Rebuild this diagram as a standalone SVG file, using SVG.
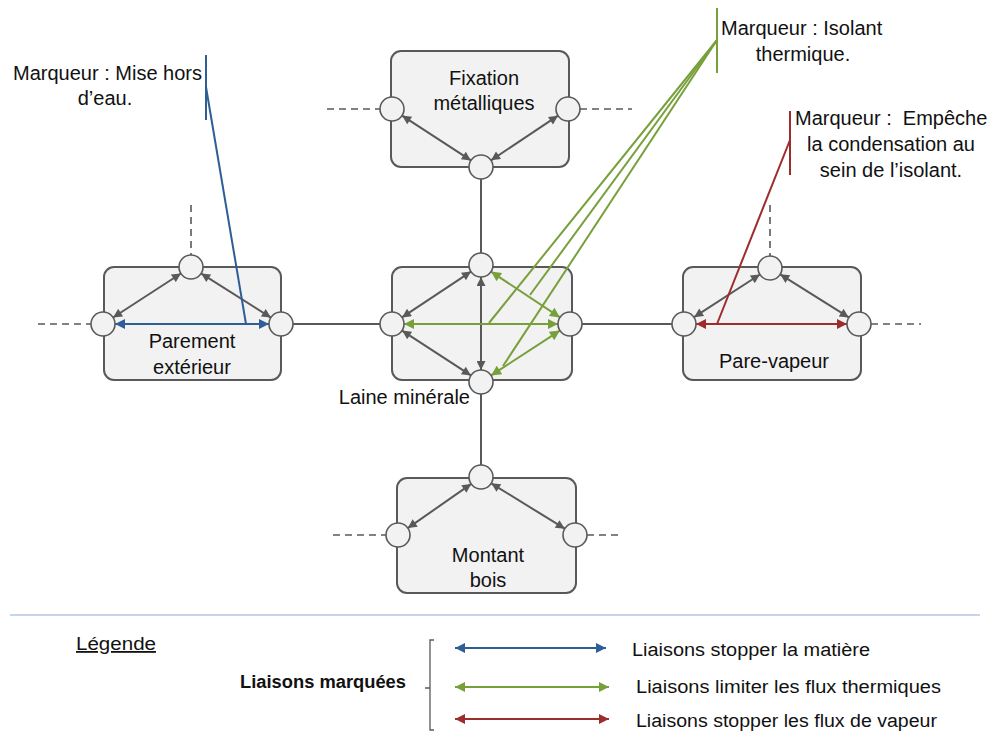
<svg xmlns="http://www.w3.org/2000/svg" width="993" height="733" viewBox="0 0 993 733">
<defs>
<marker id="ag" viewBox="0 0 10 10" refX="10" refY="5" markerWidth="11" markerHeight="9" markerUnits="userSpaceOnUse" orient="auto-start-reverse"><path d="M0,0 L10,5 L0,10 z" fill="#595959"/></marker>
<marker id="ab" viewBox="0 0 10 10" refX="10" refY="5" markerWidth="13" markerHeight="10" markerUnits="userSpaceOnUse" orient="auto-start-reverse"><path d="M0,0 L10,5 L0,10 z" fill="#2E5E96"/></marker>
<marker id="agr" viewBox="0 0 10 10" refX="10" refY="5" markerWidth="13" markerHeight="10" markerUnits="userSpaceOnUse" orient="auto-start-reverse"><path d="M0,0 L10,5 L0,10 z" fill="#77A03B"/></marker>
<marker id="ar" viewBox="0 0 10 10" refX="10" refY="5" markerWidth="13" markerHeight="10" markerUnits="userSpaceOnUse" orient="auto-start-reverse"><path d="M0,0 L10,5 L0,10 z" fill="#9B2D2D"/></marker>
</defs>
<style>
.box{fill:#f2f2f2;stroke:#595959;stroke-width:2}
.c{fill:#f2f2f2;stroke:#595959;stroke-width:1.6}
.ln{stroke:#595959;stroke-width:2;fill:none}
.dash{stroke:#595959;stroke-width:1.6;stroke-dasharray:7,5;fill:none}
.ga{stroke:#595959;stroke-width:2;marker-start:url(#ag);marker-end:url(#ag)}
.bl{stroke:#2E5E96;stroke-width:2;fill:none}
.gr{stroke:#77A03B;stroke-width:2;fill:none}
.rd{stroke:#9B2D2D;stroke-width:2;fill:none}
text{font-family:"Liberation Sans",Arial,sans-serif;font-size:20px;fill:#111111;white-space:pre}
.m{text-anchor:middle}
.lg{font-size:18px}
</style>
<rect width="993" height="733" fill="#ffffff"/>

<g id="connectors">
<line class="ln" x1="481" y1="179" x2="481" y2="253"/>
<line class="ln" x1="481" y1="394" x2="481" y2="465"/>
<line class="ln" x1="293" y1="324" x2="380" y2="324"/>
<line class="ln" x1="582" y1="324" x2="672" y2="324"/>
<line class="dash" x1="38" y1="324" x2="91" y2="324"/>
<line class="dash" x1="191" y1="205" x2="191" y2="255"/>
<line class="dash" x1="327" y1="109" x2="380" y2="109"/>
<line class="dash" x1="580" y1="109" x2="632" y2="109"/>
<line class="dash" x1="770" y1="205" x2="770" y2="256"/>
<line class="dash" x1="871" y1="324" x2="921" y2="324"/>
<line class="dash" x1="333" y1="535" x2="386" y2="535"/>
<line class="dash" x1="587" y1="535" x2="620" y2="535"/>
</g>

<g id="parement">
<rect class="box" x="104" y="267" width="177" height="113" rx="10"/>
<text class="m" x="192" y="348">Parement</text>
<text class="m" x="192" y="374">extérieur</text>
<line class="ga" x1="180.9" y1="273.5" x2="113.1" y2="317.5"/>
<line class="ga" x1="201.1" y1="273.4" x2="270.9" y2="317.6"/>
<line class="bl" x1="115" y1="324" x2="269" y2="324" marker-start="url(#ab)" marker-end="url(#ab)"/>
<circle class="c" cx="191" cy="267" r="12"/>
<circle class="c" cx="103" cy="324" r="12"/>
<circle class="c" cx="281" cy="324" r="12"/>
</g>

<g id="fixation">
<rect class="box" x="391" y="51" width="178" height="116" rx="10"/>
<text class="m" x="484" y="85">Fixation</text>
<text class="m" x="484" y="110">métalliques</text>
<line class="ga" x1="402.1" y1="115.6" x2="470.9" y2="160.4"/>
<line class="ga" x1="558" y1="115.7" x2="491" y2="160.3"/>
<circle class="c" cx="392" cy="109" r="12"/>
<circle class="c" cx="568" cy="109" r="12"/>
<circle class="c" cx="481" cy="167" r="12"/>
</g>

<g id="laine">
<rect class="box" x="392" y="267" width="180" height="113" rx="10"/>
<text x="470" y="404" text-anchor="end">Laine minérale</text>
<line class="ga" x1="471" y1="271.6" x2="402" y2="317.4"/>
<line class="ga" x1="402.1" y1="330.6" x2="470.9" y2="375.4"/>
<line class="ga" x1="481" y1="277" x2="481" y2="370"/>
<line class="gr" x1="491" y1="271.6" x2="560" y2="317.4" marker-start="url(#agr)" marker-end="url(#agr)"/>
<line class="gr" x1="491.1" y1="375.4" x2="559.9" y2="330.6" marker-start="url(#agr)" marker-end="url(#agr)"/>
<line class="gr" x1="404" y1="324" x2="558" y2="324" marker-start="url(#agr)" marker-end="url(#agr)"/>
<circle class="c" cx="481" cy="265" r="12"/>
<circle class="c" cx="392" cy="324" r="12"/>
<circle class="c" cx="570" cy="324" r="12"/>
<circle class="c" cx="481" cy="382" r="12"/>
</g>

<g id="parevapeur">
<rect class="box" x="683" y="267" width="178" height="113" rx="10"/>
<text class="m" x="774" y="368">Pare-vapeur</text>
<line class="ga" x1="759.9" y1="274.5" x2="694.1" y2="317.2"/>
<line class="ga" x1="780.2" y1="274.3" x2="848.8" y2="317.4"/>
<line class="rd" x1="696" y1="324" x2="847" y2="324" marker-start="url(#ar)" marker-end="url(#ar)"/>
<circle class="c" cx="770" cy="268" r="12"/>
<circle class="c" cx="684" cy="324" r="12"/>
<circle class="c" cx="859" cy="324" r="12"/>
</g>

<g id="montant">
<rect class="box" x="397" y="478" width="179" height="115" rx="10"/>
<text class="m" x="488" y="562">Montant</text>
<text class="m" x="488" y="587">bois</text>
<line class="ga" x1="471.2" y1="483.9" x2="407.8" y2="528.1"/>
<line class="ga" x1="491.2" y1="483.3" x2="564.8" y2="528.7"/>
<circle class="c" cx="481" cy="477" r="12"/>
<circle class="c" cx="398" cy="535" r="12"/>
<circle class="c" cx="575" cy="535" r="12"/>
</g>

<g id="marqueur-eau">
<line class="bl" x1="206" y1="55" x2="206" y2="120"/>
<line class="bl" x1="206" y1="87" x2="246" y2="324"/>
<text x="202" y="80" text-anchor="end">Marqueur : Mise hors</text>
<text class="m" x="105" y="105">d’eau.</text>
</g>

<g id="marqueur-isolant">
<line class="gr" x1="717" y1="8" x2="717" y2="73"/>
<line class="gr" x1="717" y1="40" x2="489" y2="323"/>
<line class="gr" x1="717" y1="40" x2="530" y2="295"/>
<line class="gr" x1="717" y1="40" x2="503" y2="366"/>
<text x="721" y="35">Marqueur : Isolant</text>
<text class="m" x="803" y="61">thermique.</text>
</g>

<g id="marqueur-vapeur">
<line class="rd" x1="790" y1="111" x2="790" y2="175"/>
<line class="rd" x1="790" y1="140" x2="717" y2="324"/>
<text x="795" y="125">Marqueur :  Empêche</text>
<text class="m" x="891" y="151">la condensation au</text>
<text class="m" x="891" y="177">sein de l’isolant.</text>
</g>

<g id="legende">
<line x1="10" y1="615" x2="980" y2="615" stroke="#c5d5ea" stroke-width="2"/>
<text class="lg" x="76" y="650" text-decoration="underline" textLength="80" lengthAdjust="spacingAndGlyphs">Légende</text>
<text class="lg" x="240" y="688" font-weight="bold" textLength="166" lengthAdjust="spacingAndGlyphs">Liaisons marquées</text>
<path d="M434,640 H430 V730 H434 M430,688 H425" fill="none" stroke="#595959" stroke-width="1.3"/>
<line class="bl" x1="455" y1="648" x2="606" y2="648" marker-start="url(#ab)" marker-end="url(#ab)"/>
<line class="gr" x1="455" y1="687" x2="609" y2="687" marker-start="url(#agr)" marker-end="url(#agr)"/>
<line class="rd" x1="455" y1="719" x2="609" y2="719" marker-start="url(#ar)" marker-end="url(#ar)"/>
<text class="lg" x="632" y="656" textLength="238" lengthAdjust="spacingAndGlyphs">Liaisons stopper la matière</text>
<text class="lg" x="636" y="693" textLength="305" lengthAdjust="spacingAndGlyphs">Liaisons limiter les flux thermiques</text>
<text class="lg" x="636" y="727" textLength="301" lengthAdjust="spacingAndGlyphs">Liaisons stopper les flux de vapeur</text>
</g>
</svg>
